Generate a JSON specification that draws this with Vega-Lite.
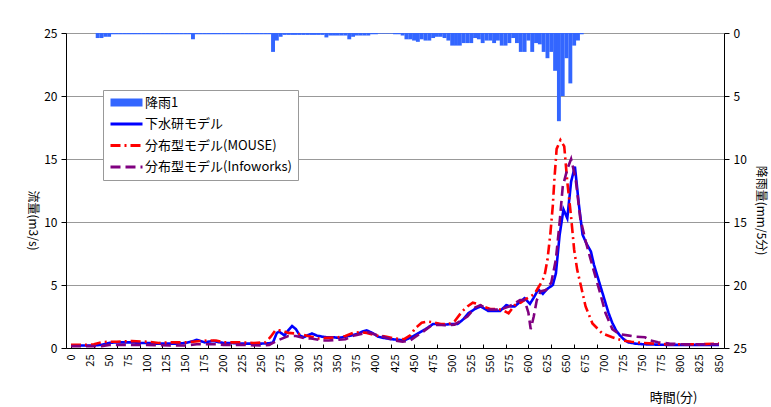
{
 "$schema": "https://vega.github.io/schema/vega-lite/v6.json",
 "width": 658, "height": 315,
 "autosize": "none",
 "padding": {"left": 66, "top": 33, "right": 47, "bottom": 59},
 "background": "white",
 "config": {"view": {"stroke": null}, "font": "Noto Sans CJK JP",
   "axis": {"labelFont": "Noto Sans CJK JP", "titleFont": "Noto Sans CJK JP", "labelColor": "black", "titleColor": "black", "titleFontWeight": "normal", "domainColor": "black", "tickColor": "black"}},
 "datasets": {
  "rain": [
   {"t":35,"r":0.4},{"t":40,"r":0.4},{"t":45,"r":0.3},{"t":50,"r":0.3},{"t":55,"r":0.1},
   {"t":60,"r":0.1},{"t":65,"r":0.1},{"t":70,"r":0.1},{"t":75,"r":0.1},{"t":80,"r":0.1},{"t":85,"r":0.1},{"t":90,"r":0.1},{"t":95,"r":0.1},{"t":100,"r":0.1},{"t":105,"r":0.1},{"t":110,"r":0.1},{"t":115,"r":0.1},{"t":120,"r":0.1},{"t":125,"r":0.1},{"t":130,"r":0.1},{"t":135,"r":0.1},{"t":140,"r":0.1},{"t":145,"r":0.1},{"t":150,"r":0.1},{"t":155,"r":0.1},
   {"t":160,"r":0.5},
   {"t":165,"r":0.1},{"t":170,"r":0.1},{"t":175,"r":0.1},{"t":180,"r":0.1},{"t":185,"r":0.1},{"t":190,"r":0.1},{"t":195,"r":0.1},{"t":200,"r":0.1},{"t":205,"r":0.1},{"t":210,"r":0.1},{"t":215,"r":0.1},{"t":220,"r":0.1},{"t":225,"r":0.1},{"t":230,"r":0.1},{"t":235,"r":0.1},{"t":240,"r":0.1},{"t":245,"r":0.1},{"t":250,"r":0.1},{"t":255,"r":0.1},{"t":260,"r":0.1},
   {"t":265,"r":1.5},{"t":270,"r":0.6},{"t":275,"r":0.3},
   {"t":280,"r":0.15},{"t":285,"r":0.15},{"t":290,"r":0.15},{"t":295,"r":0.15},{"t":300,"r":0.15},{"t":305,"r":0.15},{"t":310,"r":0.15},{"t":315,"r":0.15},{"t":320,"r":0.15},{"t":325,"r":0.15},{"t":330,"r":0.15},
   {"t":335,"r":0.35},{"t":340,"r":0.2},{"t":345,"r":0.2},{"t":350,"r":0.2},{"t":355,"r":0.2},{"t":360,"r":0.2},{"t":365,"r":0.5},{"t":370,"r":0.3},
   {"t":375,"r":0.2},{"t":380,"r":0.2},{"t":385,"r":0.2},{"t":390,"r":0.2},{"t":395,"r":0.1},{"t":400,"r":0.1},
   {"t":405,"r":0.05},{"t":410,"r":0.05},{"t":415,"r":0.05},{"t":420,"r":0.05},{"t":425,"r":0.1},{"t":430,"r":0.1},
   {"t":435,"r":0.2},{"t":440,"r":0.5},{"t":445,"r":0.5},{"t":450,"r":0.6},{"t":455,"r":0.7},{"t":460,"r":0.5},{"t":465,"r":0.6},{"t":470,"r":0.6},{"t":475,"r":0.4},{"t":480,"r":0.3},{"t":485,"r":0.3},{"t":490,"r":0.4},{"t":495,"r":0.6},
   {"t":500,"r":1.0},{"t":505,"r":1.0},{"t":510,"r":1.0},{"t":515,"r":0.8},{"t":520,"r":0.8},{"t":525,"r":0.8},{"t":530,"r":0.4},{"t":535,"r":0.5},{"t":540,"r":0.8},{"t":545,"r":0.6},{"t":550,"r":0.6},{"t":555,"r":0.8},{"t":560,"r":0.6},{"t":565,"r":1.0},{"t":570,"r":1.0},{"t":575,"r":0.8},{"t":580,"r":0.4},{"t":585,"r":0.8},{"t":590,"r":1.5},{"t":595,"r":1.5},
   {"t":600,"r":0.6},{"t":605,"r":1.5},{"t":610,"r":0.8},{"t":615,"r":0.9},{"t":620,"r":1.5},{"t":625,"r":2.0},{"t":630,"r":1.5},{"t":635,"r":3.0},{"t":640,"r":7.0},{"t":645,"r":5.0},{"t":650,"r":2.0},{"t":655,"r":4.0},{"t":660,"r":1.0},{"t":665,"r":0.6},{"t":670,"r":0.1}
  ],
  "flow": [
   {"t":0,"s":"下水研モデル","v":0.2},{"t":10,"s":"下水研モデル","v":0.2},{"t":20,"s":"下水研モデル","v":0.2},{"t":30,"s":"下水研モデル","v":0.2},{"t":40,"s":"下水研モデル","v":0.25},{"t":50,"s":"下水研モデル","v":0.4},{"t":60,"s":"下水研モデル","v":0.45},{"t":70,"s":"下水研モデル","v":0.45},{"t":80,"s":"下水研モデル","v":0.45},{"t":90,"s":"下水研モデル","v":0.4},{"t":100,"s":"下水研モデル","v":0.4},{"t":110,"s":"下水研モデル","v":0.35},{"t":120,"s":"下水研モデル","v":0.35},{"t":130,"s":"下水研モデル","v":0.35},{"t":140,"s":"下水研モデル","v":0.35},{"t":150,"s":"下水研モデル","v":0.4},{"t":160,"s":"下水研モデル","v":0.55},{"t":165,"s":"下水研モデル","v":0.65},{"t":170,"s":"下水研モデル","v":0.55},{"t":175,"s":"下水研モデル","v":0.45},{"t":180,"s":"下水研モデル","v":0.5},{"t":187,"s":"下水研モデル","v":0.55},{"t":195,"s":"下水研モデル","v":0.45},{"t":200,"s":"下水研モデル","v":0.4},{"t":210,"s":"下水研モデル","v":0.4},{"t":220,"s":"下水研モデル","v":0.35},{"t":230,"s":"下水研モデル","v":0.35},{"t":240,"s":"下水研モデル","v":0.35},{"t":250,"s":"下水研モデル","v":0.35},{"t":260,"s":"下水研モデル","v":0.37},{"t":265,"s":"下水研モデル","v":0.45},{"t":270,"s":"下水研モデル","v":1.2},{"t":273,"s":"下水研モデル","v":1.3},{"t":280,"s":"下水研モデル","v":1.0},{"t":285,"s":"下水研モデル","v":1.4},{"t":290,"s":"下水研モデル","v":1.75},{"t":295,"s":"下水研モデル","v":1.5},{"t":300,"s":"下水研モデル","v":1.0},{"t":305,"s":"下水研モデル","v":0.85},{"t":310,"s":"下水研モデル","v":1.0},{"t":316,"s":"下水研モデル","v":1.15},{"t":322,"s":"下水研モデル","v":1.0},{"t":329,"s":"下水研モデル","v":0.9},{"t":335,"s":"下水研モデル","v":0.85},{"t":345,"s":"下水研モデル","v":0.85},{"t":351,"s":"下水研モデル","v":0.8},{"t":360,"s":"下水研モデル","v":0.9},{"t":368,"s":"下水研モデル","v":1.0},{"t":375,"s":"下水研モデル","v":1.1},{"t":382,"s":"下水研モデル","v":1.3},{"t":388,"s":"下水研モデル","v":1.4},{"t":395,"s":"下水研モデル","v":1.2},{"t":403,"s":"下水研モデル","v":0.9},{"t":410,"s":"下水研モデル","v":0.8},{"t":420,"s":"下水研モデル","v":0.7},{"t":430,"s":"下水研モデル","v":0.65},{"t":437,"s":"下水研モデル","v":0.6},{"t":446,"s":"下水研モデル","v":0.85},{"t":455,"s":"下水研モデル","v":1.15},{"t":465,"s":"下水研モデル","v":1.5},{"t":475,"s":"下水研モデル","v":1.9},{"t":480,"s":"下水研モデル","v":1.9},{"t":489,"s":"下水研モデル","v":1.85},{"t":500,"s":"下水研モデル","v":1.9},{"t":507,"s":"下水研モデル","v":1.9},{"t":515,"s":"下水研モデル","v":2.3},{"t":521,"s":"下水研モデル","v":2.75},{"t":530,"s":"下水研モデル","v":3.1},{"t":537,"s":"下水研モデル","v":3.3},{"t":547,"s":"下水研モデル","v":2.95},{"t":555,"s":"下水研モデル","v":2.95},{"t":563,"s":"下水研モデル","v":2.95},{"t":571,"s":"下水研モデル","v":3.4},{"t":577,"s":"下水研モデル","v":3.3},{"t":582,"s":"下水研モデル","v":3.3},{"t":590,"s":"下水研モデル","v":3.7},{"t":595,"s":"下水研モデル","v":3.95},{"t":602,"s":"下水研モデル","v":3.5},{"t":607,"s":"下水研モデル","v":4.0},{"t":613,"s":"下水研モデル","v":4.65},{"t":619,"s":"下水研モデル","v":4.3},{"t":625,"s":"下水研モデル","v":4.7},{"t":632,"s":"下水研モデル","v":5.0},{"t":636,"s":"下水研モデル","v":5.9},{"t":641,"s":"下水研モデル","v":9.0},{"t":646,"s":"下水研モデル","v":11.0},{"t":651,"s":"下水研モデル","v":10.3},{"t":656,"s":"下水研モデル","v":13.2},{"t":661,"s":"下水研モデル","v":14.4},{"t":666,"s":"下水研モデル","v":11.5},{"t":671,"s":"下水研モデル","v":9.0},{"t":676,"s":"下水研モデル","v":8.3},{"t":682,"s":"下水研モデル","v":7.65},{"t":686,"s":"下水研モデル","v":6.6},{"t":690,"s":"下水研モデル","v":5.8},{"t":695,"s":"下水研モデル","v":4.8},{"t":701,"s":"下水研モデル","v":3.6},{"t":705,"s":"下水研モデル","v":2.8},{"t":710,"s":"下水研モデル","v":2.0},{"t":715,"s":"下水研モデル","v":1.4},{"t":720,"s":"下水研モデル","v":1.0},{"t":725,"s":"下水研モデル","v":0.7},{"t":731,"s":"下水研モデル","v":0.45},{"t":740,"s":"下水研モデル","v":0.35},{"t":750,"s":"下水研モデル","v":0.3},{"t":760,"s":"下水研モデル","v":0.28},{"t":780,"s":"下水研モデル","v":0.25},{"t":800,"s":"下水研モデル","v":0.25},{"t":825,"s":"下水研モデル","v":0.25},{"t":850,"s":"下水研モデル","v":0.25},

   {"t":0,"s":"分布型モデル(MOUSE)","v":0.25},{"t":20,"s":"分布型モデル(MOUSE)","v":0.25},{"t":30,"s":"分布型モデル(MOUSE)","v":0.3},{"t":40,"s":"分布型モデル(MOUSE)","v":0.45},{"t":50,"s":"分布型モデル(MOUSE)","v":0.5},{"t":60,"s":"分布型モデル(MOUSE)","v":0.5},{"t":80,"s":"分布型モデル(MOUSE)","v":0.55},{"t":100,"s":"分布型モデル(MOUSE)","v":0.5},{"t":115,"s":"分布型モデル(MOUSE)","v":0.4},{"t":130,"s":"分布型モデル(MOUSE)","v":0.45},{"t":150,"s":"分布型モデル(MOUSE)","v":0.45},{"t":160,"s":"分布型モデル(MOUSE)","v":0.5},{"t":180,"s":"分布型モデル(MOUSE)","v":0.6},{"t":190,"s":"分布型モデル(MOUSE)","v":0.6},{"t":200,"s":"分布型モデル(MOUSE)","v":0.45},{"t":220,"s":"分布型モデル(MOUSE)","v":0.45},{"t":240,"s":"分布型モデル(MOUSE)","v":0.4},{"t":255,"s":"分布型モデル(MOUSE)","v":0.45},{"t":262,"s":"分布型モデル(MOUSE)","v":0.9},{"t":268,"s":"分布型モデル(MOUSE)","v":1.4},{"t":276,"s":"分布型モデル(MOUSE)","v":1.4},{"t":285,"s":"分布型モデル(MOUSE)","v":1.2},{"t":295,"s":"分布型モデル(MOUSE)","v":1.15},{"t":305,"s":"分布型モデル(MOUSE)","v":1.05},{"t":315,"s":"分布型モデル(MOUSE)","v":0.9},{"t":325,"s":"分布型モデル(MOUSE)","v":0.75},{"t":335,"s":"分布型モデル(MOUSE)","v":0.8},{"t":350,"s":"分布型モデル(MOUSE)","v":0.85},{"t":360,"s":"分布型モデル(MOUSE)","v":0.95},{"t":370,"s":"分布型モデル(MOUSE)","v":1.2},{"t":378,"s":"分布型モデル(MOUSE)","v":1.25},{"t":388,"s":"分布型モデル(MOUSE)","v":1.2},{"t":400,"s":"分布型モデル(MOUSE)","v":1.0},{"t":414,"s":"分布型モデル(MOUSE)","v":0.9},{"t":425,"s":"分布型モデル(MOUSE)","v":0.75},{"t":437,"s":"分布型モデル(MOUSE)","v":0.7},{"t":445,"s":"分布型モデル(MOUSE)","v":1.0},{"t":452,"s":"分布型モデル(MOUSE)","v":1.6},{"t":460,"s":"分布型モデル(MOUSE)","v":2.0},{"t":468,"s":"分布型モデル(MOUSE)","v":2.1},{"t":475,"s":"分布型モデル(MOUSE)","v":2.05},{"t":485,"s":"分布型モデル(MOUSE)","v":1.9},{"t":495,"s":"分布型モデル(MOUSE)","v":1.9},{"t":503,"s":"分布型モデル(MOUSE)","v":2.1},{"t":513,"s":"分布型モデル(MOUSE)","v":2.9},{"t":520,"s":"分布型モデル(MOUSE)","v":3.3},{"t":527,"s":"分布型モデル(MOUSE)","v":3.6},{"t":533,"s":"分布型モデル(MOUSE)","v":3.5},{"t":540,"s":"分布型モデル(MOUSE)","v":3.3},{"t":550,"s":"分布型モデル(MOUSE)","v":3.1},{"t":560,"s":"分布型モデル(MOUSE)","v":3.1},{"t":567,"s":"分布型モデル(MOUSE)","v":3.0},{"t":574,"s":"分布型モデル(MOUSE)","v":2.75},{"t":582,"s":"分布型モデル(MOUSE)","v":3.4},{"t":590,"s":"分布型モデル(MOUSE)","v":3.6},{"t":597,"s":"分布型モデル(MOUSE)","v":3.9},{"t":603,"s":"分布型モデル(MOUSE)","v":4.1},{"t":608,"s":"分布型モデル(MOUSE)","v":4.3},{"t":613,"s":"分布型モデル(MOUSE)","v":4.8},{"t":617,"s":"分布型モデル(MOUSE)","v":5.2},{"t":621,"s":"分布型モデル(MOUSE)","v":5.7},{"t":625,"s":"分布型モデル(MOUSE)","v":7.0},{"t":629,"s":"分布型モデル(MOUSE)","v":9.2},{"t":632,"s":"分布型モデル(MOUSE)","v":11.3},{"t":634,"s":"分布型モデル(MOUSE)","v":13.3},{"t":637,"s":"分布型モデル(MOUSE)","v":15.8},{"t":642,"s":"分布型モデル(MOUSE)","v":16.5},{"t":647,"s":"分布型モデル(MOUSE)","v":16.0},{"t":651,"s":"分布型モデル(MOUSE)","v":13.2},{"t":656,"s":"分布型モデル(MOUSE)","v":10.4},{"t":660,"s":"分布型モデル(MOUSE)","v":7.8},{"t":664,"s":"分布型モデル(MOUSE)","v":6.2},{"t":669,"s":"分布型モデル(MOUSE)","v":4.9},{"t":675,"s":"分布型モデル(MOUSE)","v":3.3},{"t":684,"s":"分布型モデル(MOUSE)","v":1.95},{"t":697,"s":"分布型モデル(MOUSE)","v":1.15},{"t":710,"s":"分布型モデル(MOUSE)","v":0.85},{"t":723,"s":"分布型モデル(MOUSE)","v":0.6},{"t":735,"s":"分布型モデル(MOUSE)","v":0.5},{"t":750,"s":"分布型モデル(MOUSE)","v":0.4},{"t":780,"s":"分布型モデル(MOUSE)","v":0.3},{"t":800,"s":"分布型モデル(MOUSE)","v":0.3},{"t":825,"s":"分布型モデル(MOUSE)","v":0.3},{"t":850,"s":"分布型モデル(MOUSE)","v":0.35},

   {"t":0,"s":"分布型モデル(Infoworks)","v":0.15},{"t":40,"s":"分布型モデル(Infoworks)","v":0.15},{"t":50,"s":"分布型モデル(Infoworks)","v":0.25},{"t":80,"s":"分布型モデル(Infoworks)","v":0.25},{"t":100,"s":"分布型モデル(Infoworks)","v":0.25},{"t":130,"s":"分布型モデル(Infoworks)","v":0.2},{"t":150,"s":"分布型モデル(Infoworks)","v":0.2},{"t":165,"s":"分布型モデル(Infoworks)","v":0.3},{"t":175,"s":"分布型モデル(Infoworks)","v":0.3},{"t":190,"s":"分布型モデル(Infoworks)","v":0.3},{"t":200,"s":"分布型モデル(Infoworks)","v":0.25},{"t":220,"s":"分布型モデル(Infoworks)","v":0.25},{"t":250,"s":"分布型モデル(Infoworks)","v":0.2},{"t":260,"s":"分布型モデル(Infoworks)","v":0.25},{"t":265,"s":"分布型モデル(Infoworks)","v":0.4},{"t":273,"s":"分布型モデル(Infoworks)","v":0.65},{"t":285,"s":"分布型モデル(Infoworks)","v":0.95},{"t":295,"s":"分布型モデル(Infoworks)","v":0.95},{"t":305,"s":"分布型モデル(Infoworks)","v":0.8},{"t":315,"s":"分布型モデル(Infoworks)","v":0.75},{"t":329,"s":"分布型モデル(Infoworks)","v":0.6},{"t":338,"s":"分布型モデル(Infoworks)","v":0.6},{"t":351,"s":"分布型モデル(Infoworks)","v":0.65},{"t":360,"s":"分布型モデル(Infoworks)","v":0.7},{"t":372,"s":"分布型モデル(Infoworks)","v":1.0},{"t":390,"s":"分布型モデル(Infoworks)","v":1.25},{"t":403,"s":"分布型モデル(Infoworks)","v":1.0},{"t":415,"s":"分布型モデル(Infoworks)","v":0.8},{"t":425,"s":"分布型モデル(Infoworks)","v":0.6},{"t":435,"s":"分布型モデル(Infoworks)","v":0.5},{"t":445,"s":"分布型モデル(Infoworks)","v":0.6},{"t":452,"s":"分布型モデル(Infoworks)","v":0.9},{"t":462,"s":"分布型モデル(Infoworks)","v":1.3},{"t":473,"s":"分布型モデル(Infoworks)","v":1.8},{"t":482,"s":"分布型モデル(Infoworks)","v":1.85},{"t":490,"s":"分布型モデル(Infoworks)","v":1.8},{"t":503,"s":"分布型モデル(Infoworks)","v":1.85},{"t":512,"s":"分布型モデル(Infoworks)","v":2.2},{"t":520,"s":"分布型モデル(Infoworks)","v":2.5},{"t":530,"s":"分布型モデル(Infoworks)","v":3.2},{"t":537,"s":"分布型モデル(Infoworks)","v":3.4},{"t":548,"s":"分布型モデル(Infoworks)","v":3.05},{"t":563,"s":"分布型モデル(Infoworks)","v":3.05},{"t":575,"s":"分布型モデル(Infoworks)","v":3.3},{"t":589,"s":"分布型モデル(Infoworks)","v":3.8},{"t":595,"s":"分布型モデル(Infoworks)","v":3.8},{"t":600,"s":"分布型モデル(Infoworks)","v":2.8},{"t":603,"s":"分布型モデル(Infoworks)","v":1.5},{"t":607,"s":"分布型モデル(Infoworks)","v":2.5},{"t":611,"s":"分布型モデル(Infoworks)","v":3.8},{"t":616,"s":"分布型モデル(Infoworks)","v":4.5},{"t":623,"s":"分布型モデル(Infoworks)","v":4.6},{"t":630,"s":"分布型モデル(Infoworks)","v":5.2},{"t":636,"s":"分布型モデル(Infoworks)","v":7.0},{"t":641,"s":"分布型モデル(Infoworks)","v":10.0},{"t":645,"s":"分布型モデル(Infoworks)","v":12.8},{"t":651,"s":"分布型モデル(Infoworks)","v":14.2},{"t":656,"s":"分布型モデル(Infoworks)","v":15.0},{"t":662,"s":"分布型モデル(Infoworks)","v":13.4},{"t":668,"s":"分布型モデル(Infoworks)","v":10.3},{"t":675,"s":"分布型モデル(Infoworks)","v":8.5},{"t":684,"s":"分布型モデル(Infoworks)","v":6.5},{"t":693,"s":"分布型モデル(Infoworks)","v":4.6},{"t":701,"s":"分布型モデル(Infoworks)","v":2.8},{"t":710,"s":"分布型モデル(Infoworks)","v":1.5},{"t":719,"s":"分布型モデル(Infoworks)","v":1.1},{"t":730,"s":"分布型モデル(Infoworks)","v":1.0},{"t":740,"s":"分布型モデル(Infoworks)","v":0.9},{"t":753,"s":"分布型モデル(Infoworks)","v":0.85},{"t":760,"s":"分布型モデル(Infoworks)","v":0.6},{"t":770,"s":"分布型モデル(Infoworks)","v":0.45},{"t":785,"s":"分布型モデル(Infoworks)","v":0.35},{"t":800,"s":"分布型モデル(Infoworks)","v":0.3},{"t":850,"s":"分布型モデル(Infoworks)","v":0.3}
  ]
 },
 "layer": [
  {
   "data": {"name": "rain"},
   "mark": {"type": "bar", "color": "#3366FF", "width": 3.9},
   "encoding": {
    "x": {"field": "t", "type": "quantitative", "scale": {"domain": [0, 850], "nice": false, "zero": false},
      "axis": {"orient": "bottom", "values": [0,30,60,90,120,150,180,210,240,270,300,330,360,390,420,450,480,510,540,570,600,630,660,690,720,750,780,810,840], "labels": false, "tickSize": -4, "domain": false, "grid": false, "title": null}},
    "y": {"field": "r", "type": "quantitative", "scale": {"domain": [0, 25], "reverse": true, "nice": false},
      "axis": {"orient": "right", "values": [0,5,10,15,20,25], "grid": false, "tickSize": 5, "labelFontSize": 12, "labelPadding": 4,
        "title": "降雨量(mm/5分)", "titleFontSize": 12, "titleAngle": 90, "titleX": 36, "titleY": 177, "titleAlign": "center", "titleBaseline": "middle"}}
   }
  },
  {
   "data": {"name": "flow"},
   "mark": {"type": "line", "strokeWidth": 2.6},
   "encoding": {
    "x": {"field": "t", "type": "quantitative", "scale": {"domain": [0, 850], "nice": false, "zero": false},
      "axis": {"orient": "bottom", "values": [0,25,50,75,100,125,150,175,200,225,250,275,300,325,350,375,400,425,450,475,500,525,550,575,600,625,650,675,700,725,750,775,800,825,850],
        "labelAngle": -90, "labelAlign": "right", "labelBaseline": "middle", "labelFontSize": 11, "labelPadding": 6, "ticks": false, "grid": false, "labelOverlap": false,
        "title": "時間(分)", "titleFontSize": 13, "titleX": 631, "titleY": 43, "titleAlign": "right", "titleAnchor": "end", "titleBaseline": "top"}},
    "y": {"field": "v", "type": "quantitative", "scale": {"domain": [0, 25], "nice": false},
      "axis": {"orient": "left", "values": [0,5,10,15,20,25], "grid": true, "gridColor": "#999999", "gridWidth": 1, "tickSize": 5, "labelFontSize": 12, "labelPadding": 4,
        "title": "流量(m3/s)", "titleFontSize": 12, "titleAngle": 90, "titleX": -34, "titleY": 187, "titleAlign": "center", "titleBaseline": "middle"}},
    "color": {"field": "s", "type": "nominal",
      "scale": {"domain": ["降雨1", "下水研モデル", "分布型モデル(MOUSE)", "分布型モデル(Infoworks)"], "range": ["#3366FF", "#0000FF", "#FF0000", "#800080"]},
      "legend": {"title": null, "orient": "none", "legendX": 37, "legendY": 57, "symbolType": "M-3.2,0H3.2", "symbolSize": 100, "symbolStrokeWidth": 3, "symbolOffset": 11,
        "labelFontSize": 13, "labelFont": "Noto Sans CJK JP", "labelColor": "black", "fillColor": "white", "strokeColor": "#999999", "padding": 6, "rowPadding": 7.5, "labelOffset": 12,
        "encode": {"symbols": {"update": {
          "shape": {"signal": "datum.value === '降雨1' ? 'M-3.2,-0.8H3.2V0.8H-3.2Z' : 'M-3.2,0H3.2'"},
          "fill": {"signal": "datum.value === '降雨1' ? '#3366FF' : 'transparent'"},
          "strokeWidth": {"signal": "datum.value === '降雨1' ? 0 : 3"}}}}}},
    "strokeDash": {"field": "s", "type": "nominal",
      "scale": {"domain": ["降雨1", "下水研モデル", "分布型モデル(MOUSE)", "分布型モデル(Infoworks)"], "range": [[1,0],[1,0],[10,4,2,4],[10,5]]},
      "legend": {"title": null, "orient": "none", "legendX": 37, "legendY": 57, "symbolType": "M-3.2,0H3.2", "symbolSize": 100, "symbolStrokeWidth": 3, "symbolOffset": 11,
        "labelFontSize": 13, "labelFont": "Noto Sans CJK JP", "labelColor": "black", "fillColor": "white", "strokeColor": "#999999", "padding": 6, "rowPadding": 7.5, "labelOffset": 12}}
   }
  }
 ],
 "resolve": {"scale": {"y": "independent"}, "axis": {"x": "independent", "y": "independent"}}
}
